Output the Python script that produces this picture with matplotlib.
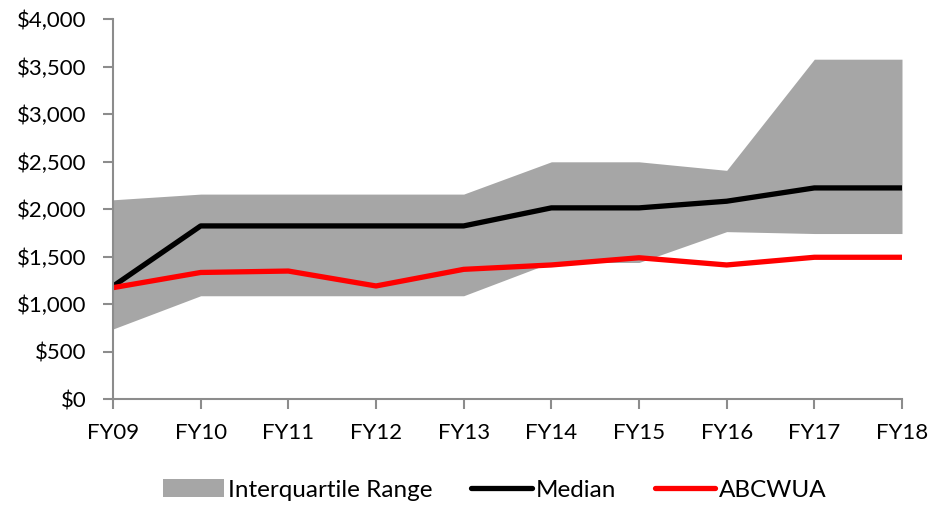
import matplotlib
matplotlib.use("Agg")
import matplotlib.pyplot as plt
from matplotlib.patches import Patch
from matplotlib.lines import Line2D
from matplotlib.ticker import FuncFormatter

years = ["FY09", "FY10", "FY11", "FY12", "FY13", "FY14", "FY15", "FY16", "FY17", "FY18"]
iqr_low = [740, 1090, 1090, 1090, 1090, 1440, 1440, 1765, 1745, 1745]
iqr_high = [2100, 2160, 2160, 2160, 2160, 2500, 2500, 2410, 3580, 3580]
median = [1190, 1825, 1825, 1825, 1825, 2015, 2015, 2085, 2225, 2225]
abcwua = [1175, 1335, 1350, 1193, 1368, 1414, 1490, 1414, 1495, 1495]

plt.rcParams['font.family'] = ['Lato', 'DejaVu Sans']

fig = plt.figure(figsize=(9.45, 5.07), dpi=100)
ax = fig.add_axes([113/945, (507-399.3)/507, (902-113)/945, (399.3-19.3)/507])

x = list(range(len(years)))
ax.fill_between(x, iqr_low, iqr_high, color='#A6A6A6', linewidth=0)
ax.plot(x, median, color='black', linewidth=3.8, solid_capstyle='round')
ax.plot(x, abcwua, color='#FF0000', linewidth=3.8, solid_capstyle='round')

ax.set_xlim(0, len(years) - 1)
ax.set_ylim(0, 4000)
ax.set_xticks(x)
ax.set_xticklabels(years)
ax.set_yticks(range(0, 4001, 500))
ax.yaxis.set_major_formatter(FuncFormatter(lambda v, p: f"${int(v):,}"))

for s in ['top', 'right']:
    ax.spines[s].set_visible(False)
for s in ['left', 'bottom']:
    ax.spines[s].set_color('#8C8C8C')
    ax.spines[s].set_linewidth(1.5)
ax.tick_params(axis='both', colors='#8C8C8C', width=1.5, length=7, labelsize=16, labelcolor='black')
ax.tick_params(axis='x', pad=10)
ax.tick_params(axis='y', pad=12)

handles = [Patch(facecolor='#A6A6A6', edgecolor='none'),
           Line2D([0], [0], color='black', linewidth=3.8, solid_capstyle='round'),
           Line2D([0], [0], color='#FF0000', linewidth=3.8, solid_capstyle='round')]
labels = ["Interquartile Range", "Median", "ABCWUA"]
fig.legend(handles, labels, loc='center', bbox_to_anchor=(495/945, (507-490)/507), ncol=3,
           frameon=False, fontsize=17.5, handlelength=2.5, handletextpad=0.15, columnspacing=1.6)

fig.savefig("out.png", dpi=100)
